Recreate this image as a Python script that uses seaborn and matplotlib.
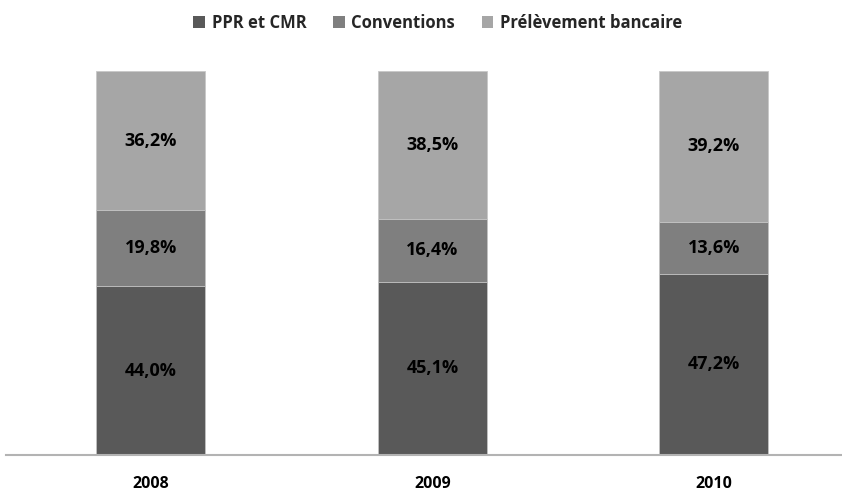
import matplotlib
matplotlib.use("Agg")
import matplotlib.pyplot as plt
from matplotlib.patches import Patch
import pandas as pd
import seaborn as sns

years = ["2008", "2009", "2010"]
series = ["PPR et CMR", "Conventions", "Prélèvement bancaire"]
ppr_cmr = [44.0, 45.1, 47.2]
conventions = [19.8, 16.4, 13.6]
prelevement = [36.2, 38.5, 39.2]
colors = ["#595959", "#7f7f7f", "#a6a6a6"]

sns.set_theme(style="white")
plt.rcParams["font.family"] = ["Open Sans", "DejaVu Sans"]

df = pd.DataFrame({
    "year": years,
    "PPR et CMR": ppr_cmr,
    "Conventions": conventions,
    "Prélèvement bancaire": prelevement,
})
# cumulative tops of each stacked segment
df["c1"] = df["PPR et CMR"]
df["c2"] = df["c1"] + df["Conventions"]
df["c3"] = df["c2"] + df["Prélèvement bancaire"]

fig = plt.figure(figsize=(8.42, 4.97), dpi=100)
ax = fig.add_axes([6 / 842, 42 / 497, 836 / 842, 384 / 497])

# draw from the tallest cumulative bar down so each layer stacks visually
for col, color in zip(["c3", "c2", "c1"], colors[::-1]):
    sns.barplot(data=df, x="year", y=col, color=color, width=0.387,
                edgecolor="#c8c8c8", linewidth=0.6, ax=ax, saturation=1)

ax.set_ylim(0, 100)
ax.set_xlim(-0.515, 2.455)
ax.set_xlabel("")
ax.set_ylabel("")
ax.set_yticks([])
ax.tick_params(axis="x", length=0, pad=15, labelsize=11.5)
for lbl in ax.get_xticklabels():
    lbl.set_fontweight("bold")
    lbl.set_color("#000000")
for side in ["top", "right", "left"]:
    ax.spines[side].set_visible(False)
ax.spines["bottom"].set_color("#b3b3b3")
ax.spines["bottom"].set_linewidth(1.5)

# value labels centred inside each segment
for i in range(len(years)):
    bottom = 0.0
    for vals in (ppr_cmr, conventions, prelevement):
        v = vals[i]
        ax.text(i, bottom + v / 2, f"{v:.1f}%".replace(".", ","),
                ha="center", va="center", fontsize=13, fontweight="bold",
                color="#000000")
        bottom += v

handles = [Patch(facecolor=c, edgecolor="none") for c in colors]
fig.legend(handles, series, loc="center", bbox_to_anchor=(0.52, 0.954),
           ncol=3, frameon=False, handlelength=0.7, handleheight=0.7,
           handletextpad=0.4, columnspacing=1.6,
           prop={"weight": "bold", "size": 12})

fig.savefig("out.png", dpi=100)
